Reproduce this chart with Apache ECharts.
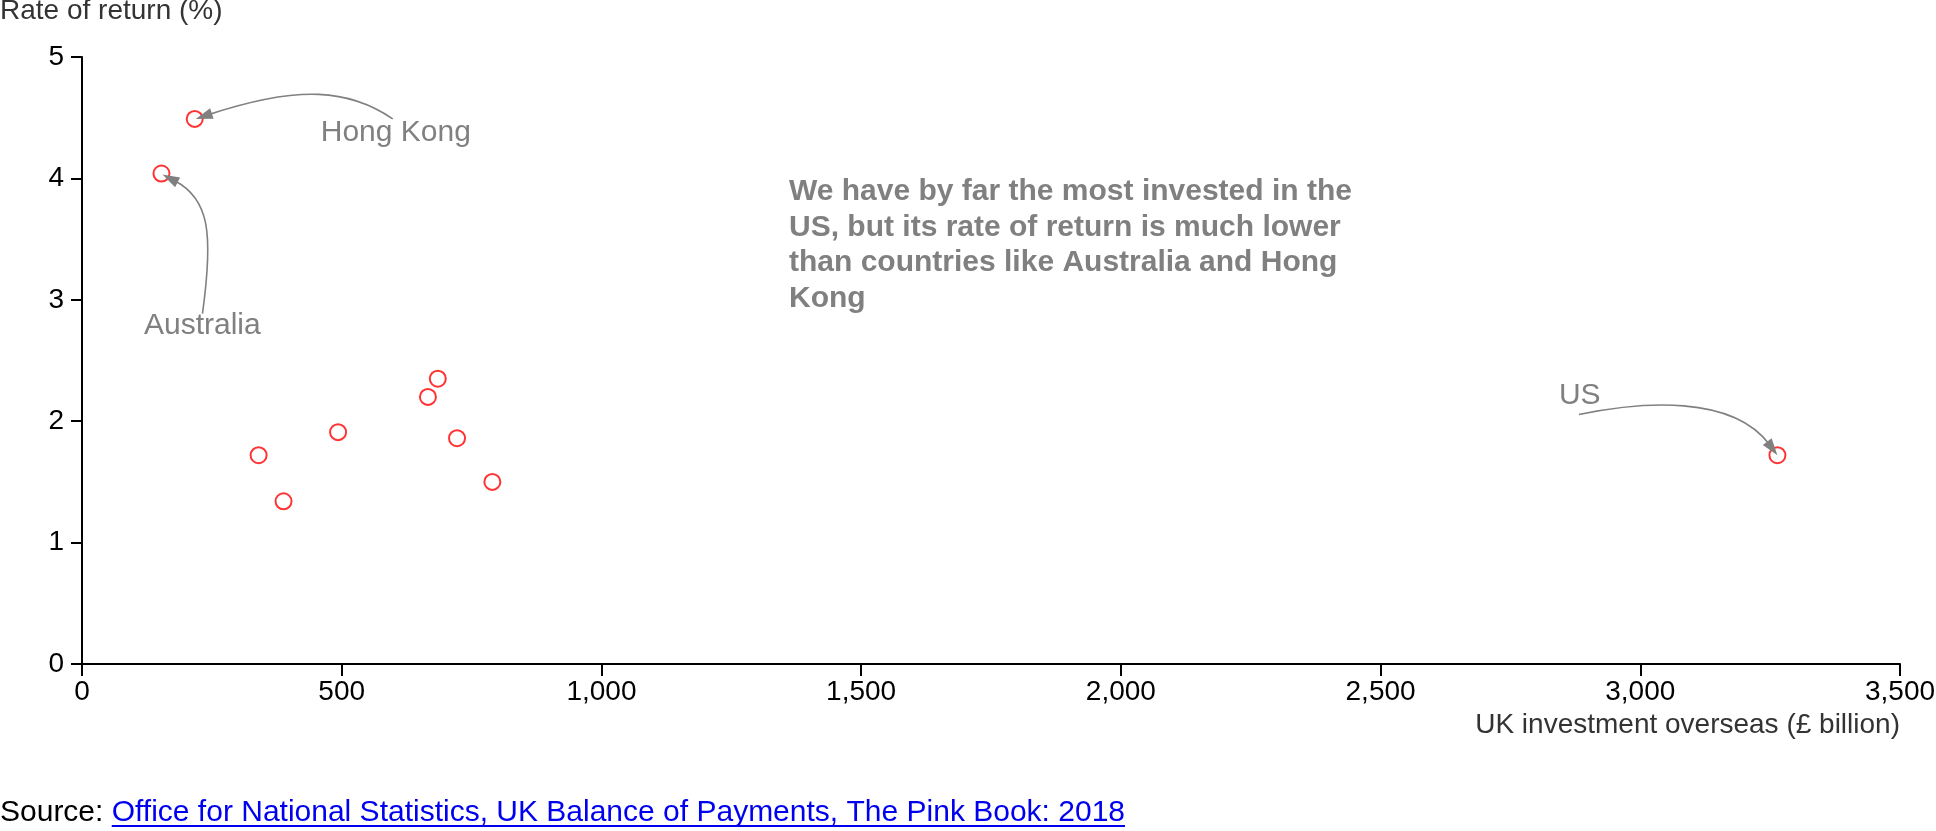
<!DOCTYPE html>
<html><head><meta charset="utf-8">
<script src="https://cdn.jsdelivr.net/npm/echarts@6/dist/echarts.min.js"></script>
<style>html,body{margin:0;padding:0;background:#fff}#c{width:1936px;height:831px}</style>
</head><body><div id="c"></div>
<script>
// ---- data ----
const countryLabels = ['Hong Kong', 'Australia', '', '', '', '', '', '', '', 'US'];
const investment = [217, 153, 340, 388, 493, 666, 685, 722, 790, 3264];   // £ billion
const rateOfReturn = [4.49, 4.04, 1.72, 1.34, 1.91, 2.20, 2.35, 1.86, 1.50, 1.72]; // %
const xTickValues = [0, 500, 1000, 1500, 2000, 2500, 3000, 3500];
const yTickValues = [0, 1, 2, 3, 4, 5];
const yAxisTitle = 'Rate of return (%)';
const xAxisTitle = 'UK investment overseas (£ billion)';
const noteLines = ['We have by far the most invested in the', 'US, but its rate of return is much lower', 'than countries like Australia and Hong', 'Kong'];
const sourcePrefix = 'Source: ';
const sourceLink = 'Office for National Statistics, UK Balance of Payments, The Pink Book: 2018';

// ---- chart ----
const FF = '"Liberation Sans", Arial, Helvetica, sans-serif';
const GREY = '#808080';
const chart = echarts.init(document.getElementById('c'), null, {renderer: 'canvas'});

chart.setOption({
  animation: false,
  grid: {left: 82, right: 36, top: 57, bottom: 167, containLabel: false, outerBoundsMode: 'none'},
  xAxis: {
    type: 'value',
    min: xTickValues[0], max: xTickValues[xTickValues.length - 1],
    interval: xTickValues[1] - xTickValues[0],
    name: xAxisTitle, nameLocation: 'end', nameGap: 0,
    nameTextStyle: {align: 'right', verticalAlign: 'top', padding: [47, 0, 0, 0], fontSize: 28, color: '#333', fontFamily: FF},
    axisLine: {show: true, onZero: false, lineStyle: {color: '#000', width: 2}},
    axisTick: {show: true, length: 12, lineStyle: {color: '#000', width: 2}},
    axisLabel: {fontSize: 28, color: '#000', margin: 14, fontFamily: FF,
      formatter: v => v.toLocaleString('en-US')},
    splitLine: {show: false}
  },
  yAxis: {
    type: 'value',
    min: yTickValues[0], max: yTickValues[yTickValues.length - 1],
    interval: yTickValues[1] - yTickValues[0],
    axisLine: {show: true, lineStyle: {color: '#000', width: 2}},
    axisTick: {show: true, length: 11, lineStyle: {color: '#000', width: 2}},
    axisLabel: {fontSize: 28, color: '#000', margin: 18, fontFamily: FF},
    splitLine: {show: false}
  },
  series: [{
    type: 'scatter',
    data: investment.map((x, i) => ({name: countryLabels[i], value: [x, rateOfReturn[i]]})),
    symbol: 'circle', symbolSize: 16,
    itemStyle: {color: '#fff', borderColor: '#ff0000', borderWidth: 2},
    emphasis: {disabled: true},
    silent: true
  }]
});

// ---- callouts: offsets (px) relative to the pixel of the annotated point ----
const callouts = [
  {idx: 0, label: [126, 14],      curve: [[198, 0], [155, -29.5], [105, -34.5], [1, 0]]},
  {idx: 1, label: [-17.5, 152.5], curve: [[41, 140], [52, 60], [48, 25], [1, 1]]},
  {idx: 9, label: [-218.5, -59],  curve: [[-198.5, -40.7], [-135.5, -53.7], [-45.5, -60.7], [0, 0]]}
];

const graphics = [];
const HEAD_L = 17, HEAD_W = 5.5;
callouts.forEach(c => {
  const p = chart.convertToPixel({gridIndex: 0}, [investment[c.idx], rateOfReturn[c.idx]]);
  const pts = c.curve.map(o => [p[0] + o[0], p[1] + o[1]]);
  const tip = pts[3], c2 = pts[2];
  let dx = tip[0] - c2[0], dy = tip[1] - c2[1];
  const len = Math.hypot(dx, dy); dx /= len; dy /= len;
  const base = [tip[0] - HEAD_L * dx, tip[1] - HEAD_L * dy];
  const end = [tip[0] - 0.8 * HEAD_L * dx, tip[1] - 0.8 * HEAD_L * dy];
  const nx = -dy, ny = dx;
  graphics.push({
    type: 'bezierCurve', z: 100, silent: true,
    shape: {x1: pts[0][0], y1: pts[0][1], cpx1: pts[1][0], cpy1: pts[1][1],
            cpx2: pts[2][0], cpy2: pts[2][1], x2: end[0], y2: end[1]},
    style: {stroke: GREY, lineWidth: 1.6, fill: null}
  });
  graphics.push({
    type: 'polygon', z: 101, silent: true,
    shape: {points: [tip, [base[0] + HEAD_W * nx, base[1] + HEAD_W * ny], [base[0] - HEAD_W * nx, base[1] - HEAD_W * ny]]},
    style: {fill: GREY, stroke: null}
  });
  graphics.push({
    type: 'text', z: 100, silent: true,
    x: p[0] + c.label[0], y: p[1] + c.label[1],
    style: {text: countryLabels[c.idx], fill: GREY, font: '30px ' + FF, align: 'left', verticalAlign: 'middle'}
  });
});

// y axis title (top-left)
graphics.push({
  type: 'text', silent: true, x: 0, y: 11,
  style: {text: yAxisTitle, fill: '#333', font: '28px ' + FF, align: 'left', verticalAlign: 'middle'}
});

// note
graphics.push({
  type: 'text', z: 100, silent: true, x: 789, y: 174,
  style: {text: noteLines.join('\n'), fill: GREY, font: 'bold 30px ' + FF, lineHeight: 35.6, align: 'left', verticalAlign: 'top'}
});

// source line
const mctx = document.createElement('canvas').getContext('2d');
mctx.font = '30px "Liberation Sans"';
const prefixW = mctx.measureText(sourcePrefix).width;
const linkW = mctx.measureText(sourceLink).width;
const SRC_Y = 813;
graphics.push({
  type: 'text', silent: true, x: 0, y: SRC_Y,
  style: {text: sourcePrefix, fill: '#000', font: '30px ' + FF, align: 'left', verticalAlign: 'middle'}
});
graphics.push({
  type: 'text', silent: true, x: prefixW, y: SRC_Y,
  style: {text: sourceLink, fill: '#0000EE', font: '30px ' + FF, align: 'left', verticalAlign: 'middle'}
});
graphics.push({
  type: 'line', silent: true,
  shape: {x1: prefixW, y1: SRC_Y + 13, x2: prefixW + linkW, y2: SRC_Y + 13},
  style: {stroke: '#0000EE', lineWidth: 2}
});

chart.setOption({graphic: graphics});
</script>
</body></html>
